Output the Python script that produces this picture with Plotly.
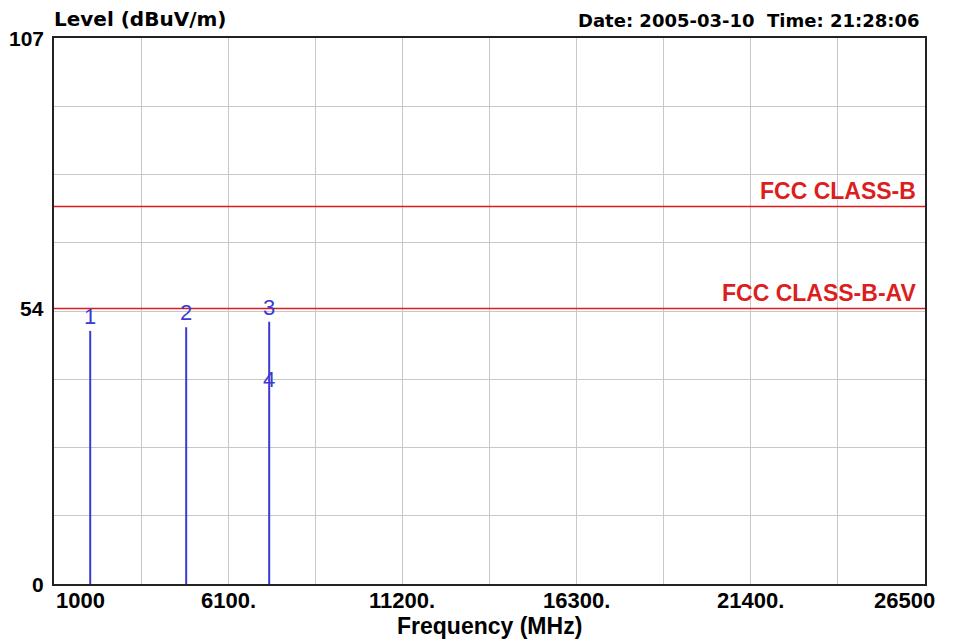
import plotly.graph_objects as go

# ---- data ----
marker_ids = ["1", "2", "3", "4"]
marker_freq_mhz = [2060, 4870, 7300, 7300]
marker_level = [49.6, 50.3, 51.4, 37.3]
peak_ids = ["1", "2", "3"]          # markers drawn as vertical lines

limit_names = ["FCC CLASS-B", "FCC CLASS-B-AV"]
limit_levels = [74, 54]

x_tick_vals = [1000, 6100, 11200, 16300, 21400, 26500]
x_tick_text = ["1000", "6100.", "11200.", "16300.", "21400.", "26500"]
y_tick_vals = [0, 54, 107]
y_tick_text = ["0", "54", "107"]

x_min, x_max = 1000, 26500
y_min, y_max = 0, 107

BLUE = "#3b3bd4"
RED = "#dc1e1e"
ARIAL = "Liberation Sans, Arial, sans-serif"
WIDE = "DejaVu Sans, Verdana, sans-serif"

fig = go.Figure()

# peak lines
for mid, f, lv in zip(marker_ids, marker_freq_mhz, marker_level):
    if mid in peak_ids:
        fig.add_trace(go.Scatter(x=[f, f], y=[0, lv], mode="lines",
                                 line=dict(color=BLUE, width=2),
                                 hoverinfo="skip", showlegend=False))

# limit lines
for name, lv in zip(limit_names, limit_levels):
    fig.add_trace(go.Scatter(x=[x_min, x_max], y=[lv, lv], mode="lines",
                             line=dict(color=RED, width=1.5),
                             hoverinfo="skip", showlegend=False))

annotations = []
# marker labels
for mid, f, lv in zip(marker_ids, marker_freq_mhz, marker_level):
    annotations.append(dict(x=f, y=lv, text=mid, showarrow=False,
                            xanchor="center", yanchor="bottom", yshift=0,
                            font=dict(family=ARIAL, size=22, color=BLUE)))
# limit labels
for name, lv in zip(limit_names, limit_levels):
    annotations.append(dict(x=1, xref="paper", y=lv, text="<b>%s</b>" % name,
                            showarrow=False, xanchor="right", yanchor="bottom",
                            xshift=-7, yshift=0,
                            font=dict(family=ARIAL, size=23, color=RED)))
# x tick labels
n = len(x_tick_vals)
for i, (v, t) in enumerate(zip(x_tick_vals, x_tick_text)):
    if i == 0:
        anchor, shift = "left", 0
    elif i == n - 1:
        anchor, shift = "right", 12
    else:
        anchor, shift = "center", 0
    annotations.append(dict(x=v, y=0, yref="paper", text="<b>%s</b>" % t,
                            showarrow=False, xanchor=anchor, yanchor="top",
                            xshift=shift, yshift=-2,
                            font=dict(family=ARIAL, size=22, color="black")))
# y tick labels
for v, t in zip(y_tick_vals, y_tick_text):
    annotations.append(dict(x=0, xref="paper", y=v, text="<b>%s</b>" % t,
                            showarrow=False, xanchor="right", yanchor="middle",
                            xshift=-8,
                            font=dict(family=ARIAL, size=21, color="black")))
# titles
annotations.append(dict(x=0, xref="paper", y=1, yref="paper",
                        text="<b>Level (dBuV/m)</b>", showarrow=False,
                        xanchor="left", yanchor="bottom", yshift=5, xshift=-2,
                        font=dict(family=WIDE, size=20, color="black")))
annotations.append(dict(x=1, xref="paper", y=1, yref="paper",
                        text="<b>Date: 2005-03-10  Time: 21:28:06</b>", showarrow=False,
                        xanchor="right", yanchor="bottom", yshift=5, xshift=-4,
                        font=dict(family=WIDE, size=18, color="black")))
annotations.append(dict(x=0.5, xref="paper", y=0, yref="paper",
                        text="<b>Frequency (MHz)</b>", showarrow=False,
                        xanchor="center", yanchor="top", yshift=-27,
                        font=dict(family=ARIAL, size=23, color="black")))

# the page places the figure 8px from the top-left corner
fig.update_layout(
    width=948, height=635,
    margin=dict(l=46, r=31, t=30, b=59),
    paper_bgcolor="white", plot_bgcolor="white",
    showlegend=False,
    annotations=annotations,
    xaxis=dict(range=[x_min, x_max], tick0=x_min, dtick=(x_max - x_min) / 10,
               showgrid=True, gridcolor="#c8c8c8", gridwidth=1,
               showticklabels=False, ticks="", zeroline=False,
               showline=True, linecolor="#222", linewidth=2, mirror=True),
    yaxis=dict(range=[y_min, y_max], tick0=0, dtick=(y_max - y_min) / 8,
               showgrid=True, gridcolor="#c8c8c8", gridwidth=1,
               showticklabels=False, ticks="", zeroline=False,
               showline=True, linecolor="#222", linewidth=2, mirror=True),
)

fig.write_html("out.html")
